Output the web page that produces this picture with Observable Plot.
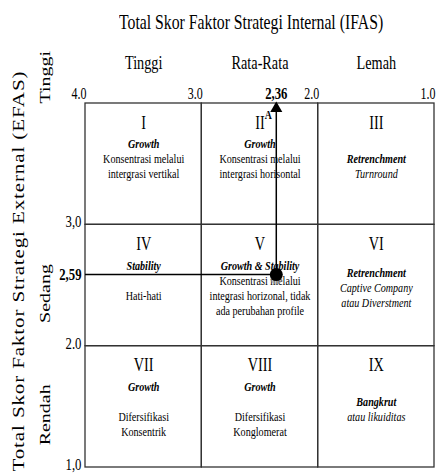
<!DOCTYPE html>
<html><head><meta charset="utf-8">
<script src="https://cdn.jsdelivr.net/npm/d3@7"></script>
<script src="https://cdn.jsdelivr.net/npm/@observablehq/plot@0.6"></script>
<style>
body{margin:0;background:#fff;font-family:"Liberation Serif",serif;color:#000;}
#title{height:40px;width:438px;box-sizing:border-box;padding-left:64px;text-align:center;font-size:21px;line-height:44px;white-space:nowrap;overflow:visible;}
#title span{display:inline-block;transform:scaleX(0.75);}
#chart svg{display:block;}
#err{font:11px monospace;color:red;white-space:pre-wrap;}
</style></head><body>
<div id="title"><span>Total Skor Faktor Strategi Internal (IFAS)</span></div>
<div id="chart"></div>
<div id="err"></div>
<script>
// ---- data ----
const yTitle = "Total Skor Faktor Strategi External (EFAS)";
const xBounds = [4, 3, 2, 1];          // IFAS column boundaries
const yBounds = [4, 3, 2, 1];          // EFAS row boundaries
const xTickLabels = ["4.0", "3.0", "2.0", "1.0"];
const yTickLabels = ["3,0", "2.0", "1,0"];   // at 3, 2, 1
const colLabels = ["Tinggi", "Rata-Rata", "Lemah"];
const rowLabels = ["Tinggi", "Sedang", "Rendah"];
const numerals = ["I", "II", "III", "IV", "V", "VI", "VII", "VIII", "IX"];
const strategies = ["Growth", "Growth", "Retrenchment", "Stability", "Growth & Stability", "Retrenchment", "Growth", "Growth", "Bangkrut"];
const descriptions = [
  "Konsentrasi melalui\nintergrasi vertikal\n",
  "Konsentrasi melalui\nintergrasi horisontal\n",
  "Turnround",
  "\nHati-hati\n",
  "Konsentrasi melalui\nintegrasi horizonal, tidak\nada perubahan profile",
  "Captive Company\natau Diverstment",
  "\nDifersifikasi\nKonsentrik",
  "\nDifersifikasi\nKonglomerat",
  "atau likuiditas"
];
const descItalic = [false, false, true, false, false, true, false, false, true];
const ifasScore = 2.36;
const efasScore = 2.59;
const ifasLabel = "2,36";
const efasLabel = "2,59";
const pointLabel = "A";

try {
// ---- derived table ----
const cells = numerals.map((n, i) => {
  const c = i % 3, r = Math.floor(i / 3);
  return {
    numeral: n, strategy: strategies[i], desc: descriptions[i], italic: descItalic[i],
    x1: xBounds[c], x2: xBounds[c + 1], y1: yBounds[r], y2: yBounds[r + 1],
    xc: (xBounds[c] + xBounds[c + 1]) / 2, yc: (yBounds[r] + yBounds[r + 1]) / 2,
    descLines: descriptions[i].split("\n").length
  };
});
const scorePoint = [{x: ifasScore, y: efasScore}];
const arrowTip = [{x: ifasScore, y: yBounds[0]}];
const colMid = colLabels.map((d, i) => (xBounds[i] + xBounds[i + 1]) / 2);
const rowMid = rowLabels.map((d, i) => (yBounds[i] + yBounds[i + 1]) / 2);

const cellFont = 13.5, lh = 1.11, blockDy = 2;

const svg = Plot.plot({
  width: 438,
  height: 433,
  marginLeft: 85, marginRight: 4, marginTop: 63, marginBottom: 6,
  x: {domain: [xBounds[0], xBounds[3]], axis: null},
  y: {domain: [yBounds[3], yBounds[0]], axis: null},
  style: {fontFamily: "Liberation Serif, serif", fontSize: "13px", color: "#000", background: "#fff"},
  marks: [
    Plot.rect(cells, {x1: "x1", x2: "x2", y1: "y1", y2: "y2", fill: "none", stroke: "#333", strokeWidth: 1.3}),
    // column headers and x ticks
    Plot.text(colLabels, {x: colMid, frameAnchor: "top", lineAnchor: "middle", dy: -41, fontSize: 19}),
    Plot.text(xTickLabels, {x: xBounds, frameAnchor: "top", lineAnchor: "middle", dy: -10, dx: 1, textAnchor: "end", fontSize: 16}),
    Plot.text([ifasLabel], {x: [ifasScore], frameAnchor: "top", lineAnchor: "middle", dy: -10, fontSize: 17, fontWeight: "bold"}),
    // y title, row labels, y ticks
    Plot.text([yTitle], {frameAnchor: "bottom-left", textAnchor: "start", lineAnchor: "middle", rotate: -90, dx: -67, dy: 4, fontSize: 21, className: "ytitle"}),
    Plot.text([rowLabels[0]], {y: [yBounds[0]], frameAnchor: "left", rotate: -90, dx: -40, textAnchor: "start", fontSize: 20}),
    Plot.text(rowLabels.slice(1), {y: rowMid.slice(1), frameAnchor: "left", textAnchor: "middle", rotate: -90, dx: -40, dy: 8, fontSize: 20}),
    Plot.text(yTickLabels, {y: yBounds.slice(1), frameAnchor: "left", dx: -4, dy: -3, textAnchor: "end", fontSize: 17}),
    Plot.text([efasLabel], {y: [efasScore], frameAnchor: "left", dx: -4, textAnchor: "end", fontSize: 17, fontWeight: "bold"}),
    // cell contents
    Plot.text(cells, {x: "xc", y: "y1", dy: 19, text: "numeral", fontSize: 19}),
    Plot.text(cells, {x: "xc", y: "yc", dy: blockDy, text: d => d.strategy + "\n".repeat(d.descLines), fontSize: cellFont, lineHeight: lh, fontWeight: "bold", fontStyle: "italic"}),
    Plot.text(cells.filter(d => !d.italic), {x: "xc", y: "yc", dy: blockDy, text: d => "\n" + d.desc, fontSize: cellFont, lineHeight: lh}),
    Plot.text(cells.filter(d => d.italic), {x: "xc", y: "yc", dy: blockDy, text: d => "\n" + d.desc, fontSize: cellFont, lineHeight: lh, fontStyle: "italic"}),
    // position lines and point
    Plot.ruleY(scorePoint, {y: "y", x1: xBounds[0], x2: "x", stroke: "#000", strokeWidth: 1.5}),
    Plot.ruleX(scorePoint, {x: "x", y1: "y", y2: yBounds[0], stroke: "#000", strokeWidth: 1.5}),
    Plot.dot(arrowTip, {x: "x", y: "y", symbol: "triangle", fill: "#000", stroke: "none", r: 4.5, dy: 5}),
    Plot.text([pointLabel], {x: [ifasScore], y: [yBounds[0]], dx: -8, dy: 11, fontSize: 13, fontWeight: "bold"}),
    Plot.dot(scorePoint, {x: "x", y: "y", r: 6, fill: "#999", fillOpacity: 0.6, dy: 4, stroke: "none"}),
    Plot.dot(scorePoint, {x: "x", y: "y", r: 6.5, fill: "#000", stroke: "none"})
  ]
});

// narrow the glyphs horizontally, as in the reference
svg.querySelectorAll("text").forEach(t => {
  const tr = t.getAttribute("transform");
  const s = tr && tr.includes("rotate") ? "scale(1,0.75)" : "scale(0.75,1)";
  if (tr) t.setAttribute("transform", tr + " " + s);
});
// spread the vertical axis title over the same length as in the reference
svg.querySelectorAll(".ytitle text").forEach(t => {
  t.setAttribute("textLength", 400);
  t.setAttribute("lengthAdjust", "spacing");
});
document.getElementById("chart").appendChild(svg);
} catch (e) { document.getElementById("err").textContent = String(e && e.stack || e); }
</script>
</body></html>
